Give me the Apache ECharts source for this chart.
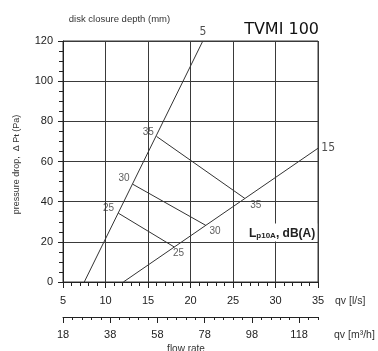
<!DOCTYPE html>
<html>
<head>
<meta charset="utf-8">
<script src="https://cdn.jsdelivr.net/npm/echarts@6/dist/echarts.min.js"></script>
<style>html,body{margin:0;padding:0;background:#fff}#c{width:378px;height:351px}</style>
</head>
<body>
<div id="c"></div>
<script>
// ---- data ----
const flowLsTicks = [5, 10, 15, 20, 25, 30, 35];            // qv [l/s]
const pressureTicks = [0, 20, 40, 60, 80, 100, 120];         // Δpt [Pa]
const flowM3hTicks = [18, 38, 58, 78, 98, 118];              // qv [m3/h]
const flowM3hMinorTicks = [18, 22, 26, 30, 34, 38, 42, 46, 50, 54, 58, 62, 66, 70, 74, 78, 82, 86, 90, 94, 98, 102, 106, 110, 114, 118, 122, 126];

// disk closure depth lines (mm)
const depth5 = [[7.5, 0], [21.45, 120]];
const depth15 = [[12.1, 0], [35, 66.6]];
// sound level lines Lp10A dB(A)
const db25 = [[11.5, 34.3], [18.1, 17.4]];
const db30 = [[13.2, 48.7], [21.8, 28.2]];
const db35 = [[16.0, 72.5], [26.4, 41.6]];

// label anchor points (data coords)
const dbLabels = [
  [10.35, 36.85, '25'], [18.59, 14.44, '25'],
  [12.18, 51.6, '30'], [22.88, 25.05, '30'],
  [15.04, 74.55, '35'], [27.68, 38.35, '35']
];
const depthLabels = [[21.47, 124.3, '5'], [36.2, 66.7, '15']];

// ---- chart ----
const chart = echarts.init(document.getElementById('c'), null, {renderer: 'canvas'});
const FONT = 'Liberation Sans, Arial, sans-serif';
const GRID_C = '#3a3a3a';
const LINE_C = '#333';

function lineSeries(data) {
  return {
    type: 'line', data: data, xAxisIndex: 0, yAxisIndex: 0,
    showSymbol: false, symbol: 'none', silent: true,
    lineStyle: {color: LINE_C, width: 1}, z: 3
  };
}

const option = {
  animation: false,
  backgroundColor: '#fff',
  grid: [
    {left: 63, right: 60, top: 41, bottom: 69, show: true, borderColor: GRID_C, borderWidth: 1},
    {left: 63, right: 60, top: 300, bottom: 34}
  ],
  xAxis: [
    {
      type: 'value', gridIndex: 0, position: 'bottom', min: flowLsTicks[0], max: flowLsTicks[flowLsTicks.length - 1], interval: 5,
      axisLine: {show: true, lineStyle: {color: '#222', width: 1}},
      axisTick: {show: true, length: 6, lineStyle: {color: '#222'}},
      minorTick: {show: true, splitNumber: 5, length: 4, lineStyle: {color: '#222'}},
      splitLine: {show: true, lineStyle: {color: GRID_C, width: 1}},
      axisLabel: {margin: 13, color: '#222', fontFamily: FONT, fontSize: 11,
        formatter: v => flowLsTicks.includes(v) ? String(v) : ''}
    },
    {
      type: 'value', gridIndex: 1, position: 'bottom', min: 18, max: 126,
      axisLine: {show: true, lineStyle: {color: '#222', width: 1}},
      axisTick: {show: true, length: 6, customValues: flowM3hTicks, lineStyle: {color: '#222'}},
      splitLine: {show: false},
      axisLabel: {margin: 12, color: '#222', fontFamily: FONT, fontSize: 11, customValues: flowM3hTicks}
    },
    {
      type: 'value', gridIndex: 1, position: 'bottom', min: 18, max: 126,
      axisLine: {show: false},
      axisTick: {show: true, length: 3, customValues: flowM3hMinorTicks, lineStyle: {color: '#222'}},
      splitLine: {show: false},
      axisLabel: {show: false}
    }
  ],
  yAxis: [
    {
      type: 'value', gridIndex: 0, min: 0, max: pressureTicks[pressureTicks.length - 1], interval: 20,
      axisLine: {show: true, lineStyle: {color: '#222', width: 1}},
      axisTick: {show: true, length: 5, lineStyle: {color: '#222'}},
      minorTick: {show: true, splitNumber: 4, length: 4, lineStyle: {color: '#222'}},
      splitLine: {show: true, lineStyle: {color: GRID_C, width: 1}},
      axisLabel: {margin: 10, color: '#222', fontFamily: FONT, fontSize: 11,
        formatter: v => pressureTicks.includes(v) ? String(v) : ''}
    },
    {type: 'value', gridIndex: 1, show: false, min: 0, max: 1}
  ],
  series: [
    lineSeries(depth5),
    lineSeries(depth15),
    lineSeries(db25),
    lineSeries(db30),
    lineSeries(db35),
    {
      type: 'scatter', data: dbLabels, xAxisIndex: 0, yAxisIndex: 0, clip: false, silent: true,
      symbolSize: 1, itemStyle: {color: 'rgba(0,0,0,0)'}, z: 5,
      label: {show: true, position: 'inside', formatter: p => p.value[2],
        color: '#333', fontFamily: FONT, fontSize: 10}
    },
    {
      type: 'scatter', data: depthLabels, xAxisIndex: 0, yAxisIndex: 0, clip: false, silent: true,
      symbolSize: 1, itemStyle: {color: 'rgba(0,0,0,0)'}, z: 5,
      label: {show: true, position: 'inside', formatter: p => p.value[2],
        color: '#222', fontFamily: 'DejaVu Sans Condensed, DejaVu Sans, sans-serif', fontSize: 12}
    }
  ],
  graphic: [
    {type: 'text', x: 119.5, y: 19, z: 10, silent: true,
      style: {text: 'disk closure depth (mm)', fill: '#333', font: '9.5px ' + FONT, align: 'center', verticalAlign: 'middle'}},
    {type: 'text', x: 319, y: 29.5, z: 10, silent: true,
      style: {text: 'TVMI 100', fill: '#111', font: '16px DejaVu Sans, sans-serif', align: 'right', verticalAlign: 'middle'}},
    {type: 'text', x: 15.5, y: 164.5, rotation: Math.PI / 2, z: 10, silent: true,
      style: {text: '{a|pressure drop,  Δ P}{s|t}{a| (Pa)}', align: 'center', verticalAlign: 'middle',
        rich: {a: {fill: '#333', font: '9px ' + FONT, lineHeight: 11, verticalAlign: 'bottom'},
               s: {fill: '#333', font: 'bold 8px ' + FONT, lineHeight: 9, verticalAlign: 'bottom'}}}},
    {type: 'text', x: 247, y: 232.5, z: 10, silent: true,
      style: {text: '{L|L}{s|p10A}{n|, dB(A)}', align: 'left', verticalAlign: 'middle',
        backgroundColor: '#fff', padding: [3, 2, 2, 2],
        rich: {L: {fill: '#222', font: 'bold 12px ' + FONT, lineHeight: 13, verticalAlign: 'bottom'},
               s: {fill: '#222', font: 'bold 8px ' + FONT, lineHeight: 10, verticalAlign: 'bottom'},
               n: {fill: '#222', font: 'bold 12px ' + FONT, lineHeight: 13, verticalAlign: 'bottom'}}}},
    {type: 'text', x: 335, y: 301.5, z: 10, silent: true,
      style: {text: 'qv [l/s]', fill: '#333', font: '10.5px ' + FONT, align: 'left', verticalAlign: 'middle'}},
    {type: 'text', x: 334, y: 335, z: 10, silent: true,
      style: {text: 'qv [m³/h]', fill: '#333', font: '10.5px ' + FONT, align: 'left', verticalAlign: 'middle'}},
    {type: 'text', x: 186, y: 349, z: 10, silent: true,
      style: {text: 'flow rate', fill: '#333', font: '10px ' + FONT, align: 'center', verticalAlign: 'middle'}}
  ]
};
chart.setOption(option);
</script>
</body>
</html>
